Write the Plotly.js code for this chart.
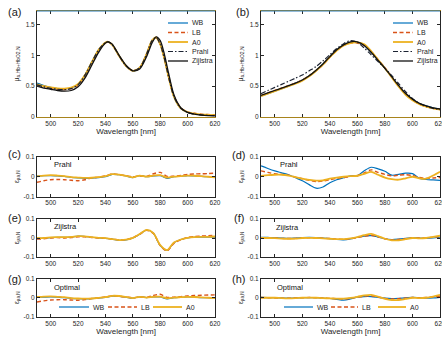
<!DOCTYPE html>
<html>
<head>
<meta charset="utf-8">
<script src="https://cdn.plot.ly/plotly-3.0.1.min.js"></script>
<style>
  html, body { margin: 0; padding: 0; background: #fff; }
  #chart { width: 442px; height: 340px; }
</style>
</head>
<body>
<div id="chart"></div>
<script>
// ---- wavelength grids [nm] ----
const wlSpec = [490,495,500,505,510,515,520,525,530,535,540,542,545,550,555,560,565,570,574,577,580,583,586,590,595,600,605,610,615,620];
const wlDeoxy = [490,495,500,505,510,515,520,525,530,535,540,545,550,555,560,565,570,575,580,585,590,595,600,605,610,615,620];
const wlRes = [490,495,500,505,510,515,520,525,530,535,540,545,550,555,560,565,570,575,580,585,590,595,600,605,610,615,620];

const tickWl = [500,520,540,560,580,600,620];
const tickMu = [0,0.5,1,1.5];
const tickErr = [-0.1,0,0.1];
const tickErrText = ['-0.1','0','0.1'];

const seriesNames = ['WB','LB','A0','Prahl','Zijlstra'];
const fitNames = ['WB','LB','A0'];

// ---- normalized absorption, oxygenated sample (a) ----
const oxyWB       = [0.55,0.51,0.48,0.46,0.45,0.47,0.53,0.68,0.89,1.09,1.21,1.22,1.17,0.99,0.83,0.75,0.80,1.02,1.24,1.29,1.18,0.95,0.66,0.33,0.14,0.075,0.05,0.035,0.028,0.024];
const oxyLB       = [0.52,0.50,0.47,0.455,0.445,0.46,0.52,0.67,0.88,1.08,1.20,1.22,1.17,0.99,0.83,0.75,0.80,1.02,1.24,1.29,1.18,0.95,0.66,0.34,0.15,0.08,0.06,0.045,0.04,0.035];
const oxyA0       = [0.53,0.50,0.48,0.465,0.46,0.475,0.535,0.68,0.89,1.09,1.21,1.22,1.17,0.99,0.83,0.75,0.80,1.02,1.24,1.29,1.18,0.95,0.66,0.33,0.14,0.08,0.055,0.04,0.035,0.03];
const oxyPrahl    = [0.52,0.49,0.465,0.45,0.445,0.46,0.525,0.68,0.89,1.09,1.21,1.22,1.17,0.99,0.83,0.75,0.80,1.02,1.24,1.29,1.18,0.95,0.66,0.33,0.14,0.074,0.045,0.035,0.025,0.022];
const oxyZijlstra = [0.50,0.47,0.45,0.43,0.42,0.43,0.49,0.63,0.84,1.05,1.20,1.22,1.18,1.00,0.84,0.75,0.78,0.98,1.20,1.30,1.24,1.02,0.72,0.36,0.15,0.075,0.045,0.03,0.022,0.018];

// ---- normalized absorption, deoxygenated sample (b) ----
const deoxyWB       = [0.34,0.38,0.42,0.46,0.50,0.55,0.60,0.67,0.75,0.86,0.98,1.09,1.17,1.21,1.21,1.16,1.05,0.92,0.79,0.65,0.50,0.38,0.29,0.22,0.18,0.15,0.13];
const deoxyLB       = [0.35,0.39,0.43,0.47,0.51,0.55,0.60,0.67,0.75,0.85,0.97,1.08,1.16,1.20,1.20,1.16,1.06,0.93,0.80,0.65,0.50,0.38,0.28,0.21,0.17,0.14,0.12];
const deoxyA0       = [0.34,0.38,0.42,0.46,0.50,0.54,0.59,0.66,0.75,0.85,0.97,1.08,1.16,1.20,1.21,1.18,1.07,0.93,0.79,0.64,0.49,0.36,0.27,0.21,0.17,0.14,0.12];
const deoxyPrahl    = [0.38,0.43,0.48,0.53,0.58,0.63,0.68,0.75,0.82,0.91,1.01,1.11,1.19,1.24,1.21,1.12,1.01,0.90,0.79,0.67,0.54,0.41,0.30,0.22,0.17,0.14,0.12];
const deoxyZijlstra = [0.35,0.39,0.43,0.47,0.51,0.55,0.60,0.67,0.76,0.86,0.98,1.09,1.17,1.22,1.22,1.16,1.05,0.92,0.79,0.65,0.51,0.38,0.29,0.22,0.18,0.15,0.13];

// ---- residuals against Prahl (c, d) ----
const errPrahlOxyWB   = [0.003,0.005,0.006,0.004,0.002,-0.003,-0.006,-0.008,-0.007,-0.004,0.0,0.012,0.01,0.004,-0.004,0.006,0.0,0.004,0.005,-0.008,0.0,0.002,0.006,0.004,0.002,0.0,-0.002];
const errPrahlOxyLB   = [-0.028,-0.02,-0.015,-0.014,-0.015,-0.018,-0.02,-0.015,-0.006,-0.002,0.004,0.015,0.01,0.005,0.0,0.004,0.002,0.015,0.022,0.002,0.003,0.006,0.012,0.014,0.015,0.016,0.018];
const errPrahlOxyA0   = [0.002,0.006,0.008,0.006,0.003,-0.002,-0.004,-0.006,-0.005,-0.002,0.003,0.013,0.011,0.005,-0.003,0.006,0.001,0.006,0.008,-0.004,0.001,0.003,0.006,0.005,0.003,0.0,-0.003];
const errPrahlDeoxyWB = [0.055,0.042,0.03,0.02,0.01,-0.005,-0.02,-0.04,-0.058,-0.052,-0.03,-0.015,-0.005,0.004,0.006,0.03,0.048,0.04,0.028,0.008,0.012,0.018,0.016,-0.008,-0.014,-0.016,-0.018];
const errPrahlDeoxyLB = [0.03,0.022,0.015,0.012,0.008,-0.002,-0.01,-0.018,-0.025,-0.022,-0.015,-0.008,-0.004,0.002,0.005,0.02,0.035,0.022,0.012,0.004,0.008,0.01,0.006,-0.004,-0.008,-0.006,-0.004];
const errPrahlDeoxyA0 = [0.004,0.008,0.01,0.01,0.006,-0.002,-0.01,-0.016,-0.02,-0.018,-0.01,-0.004,0.0,0.003,0.005,0.015,0.025,0.01,-0.004,-0.012,-0.015,-0.008,0.0,-0.008,-0.01,0.006,0.025];

// ---- residuals against Zijlstra (e, f) ----
const errZijOxyWB   = [0.0,-0.002,0.002,0.004,0.003,0.005,0.01,0.008,0.004,0.0,-0.002,-0.006,-0.012,-0.01,0.0,0.02,0.042,0.025,-0.04,-0.065,-0.025,-0.008,0.0,0.004,0.004,0.004,0.005];
const errZijOxyLB   = [-0.006,-0.004,0.0,0.002,0.0,0.002,0.006,0.006,0.003,0.0,-0.002,-0.005,-0.01,-0.008,0.002,0.02,0.04,0.024,-0.04,-0.068,-0.028,-0.01,0.003,0.008,0.01,0.012,0.014];
const errZijOxyA0   = [0.0,0.0,0.003,0.005,0.004,0.006,0.01,0.009,0.005,0.001,-0.001,-0.006,-0.011,-0.009,0.001,0.021,0.043,0.026,-0.038,-0.064,-0.024,-0.008,0.001,0.005,0.006,0.006,0.008];
const errZijDeoxyWB = [0.004,0.003,0.002,0.0,-0.002,0.0,0.002,0.003,0.002,0.0,-0.003,-0.008,-0.01,-0.005,0.004,0.01,0.012,0.005,-0.004,-0.008,-0.006,-0.002,0.002,0.0,-0.002,0.0,0.004];
const errZijDeoxyLB = [0.002,0.001,0.0,-0.002,-0.003,-0.002,0.0,0.001,0.001,-0.001,-0.003,-0.006,-0.007,-0.004,0.003,0.01,0.014,0.006,-0.004,-0.01,-0.008,-0.003,0.001,0.0,0.0,0.004,0.008];
const errZijDeoxyA0 = [0.0,0.0,-0.001,-0.003,-0.004,-0.003,0.0,0.001,0.0,-0.002,-0.004,-0.006,-0.006,-0.002,0.005,0.015,0.022,0.01,-0.004,-0.012,-0.012,-0.006,0.0,-0.002,0.0,0.006,0.012];

// ---- residuals against the optimal reference (g, h) ----
const errOptOxyWB   = [0.002,0.003,0.004,0.003,0.0,-0.003,-0.005,-0.006,-0.005,-0.002,0.002,0.008,0.007,0.003,-0.002,0.005,0.001,0.004,0.004,-0.006,0.0,0.002,0.004,0.003,0.001,0.0,-0.002];
const errOptOxyLB   = [-0.022,-0.016,-0.012,-0.01,-0.01,-0.012,-0.013,-0.01,-0.004,0.0,0.004,0.01,0.007,0.004,0.0,0.004,0.002,0.012,0.018,0.002,0.003,0.006,0.01,0.012,0.013,0.014,0.015];
const errOptOxyA0   = [0.004,0.006,0.007,0.005,0.003,-0.002,-0.004,-0.005,-0.004,-0.001,0.003,0.01,0.009,0.004,-0.002,0.005,0.001,0.005,0.006,-0.003,0.001,0.003,0.005,0.004,0.002,0.0,-0.002];
const errOptDeoxyWB = [0.002,0.001,0.0,-0.001,-0.002,-0.001,0.0,0.001,0.0,-0.002,-0.004,-0.008,-0.012,-0.006,0.003,0.006,0.006,0.002,-0.002,-0.004,-0.003,-0.001,0.002,0.0,-0.002,-0.001,0.002];
const errOptDeoxyLB = [0.001,0.0,-0.001,-0.002,-0.002,-0.001,0.0,0.001,0.0,-0.001,-0.003,-0.005,-0.006,-0.003,0.003,0.008,0.01,0.004,-0.003,-0.006,-0.005,-0.002,0.001,0.0,0.001,0.004,0.008];
const errOptDeoxyA0 = [0.0,0.0,0.0,-0.002,-0.003,-0.002,0.0,0.001,0.0,-0.002,-0.003,-0.005,-0.005,-0.001,0.005,0.012,0.015,0.006,-0.006,-0.012,-0.012,-0.006,0.0,-0.002,0.0,0.006,0.015];

// ---- styling ----
const FONT = 'Liberation Sans, Arial, Helvetica, sans-serif';
const INK = '#262626';
const W = 442, H = 340;
const styles = {
  WB:       { color: '#0072BD', width: 1.2, dash: 'solid' },
  LB:       { color: '#D95319', width: 1.4, dash: '4px,2.5px' },
  A0:       { color: '#EDB120', width: 1.8, dash: 'solid' },
  Prahl:    { color: '#1c2333', width: 1.2, dash: '5px,2px,1.5px,2px' },
  Zijlstra: { color: '#111111', width: 1.3, dash: 'solid' }
};

// pixel -> paper helpers
const px = v => v / W;
const py = v => 1 - v / H;
const colL = [px(37), px(215)];
const colR = [px(261), px(440)];
const rowSpec = [py(117), py(11)];
const rowC = [py(196.5), py(157)];
const rowE = [py(257), py(219)];
const rowG = [py(317), py(278.5)];

const traces = [];
function addLine(x, y, name, n) {
  const s = styles[name];
  traces.push({
    type: 'scatter', mode: 'lines', x: x, y: y, name: name,
    xaxis: 'x' + (n === 1 ? '' : n), yaxis: 'y' + (n === 1 ? '' : n),
    line: { color: s.color, width: s.width, dash: s.dash, shape: 'spline', smoothing: 0.8 },
    showlegend: false, hoverinfo: 'skip'
  });
}

// (a) and (b): spectra
[[oxyWB,oxyLB,oxyA0,oxyPrahl,oxyZijlstra],[deoxyWB,deoxyLB,deoxyA0,deoxyPrahl,deoxyZijlstra]].forEach((set, i) => {
  const x = i === 0 ? wlSpec : wlDeoxy;
  set.forEach((y, k) => addLine(x, y, seriesNames[k], i + 1));
});

// (c)-(h): residuals
const residualSets = [
  [errPrahlOxyWB, errPrahlOxyLB, errPrahlOxyA0],
  [errPrahlDeoxyWB, errPrahlDeoxyLB, errPrahlDeoxyA0],
  [errZijOxyWB, errZijOxyLB, errZijOxyA0],
  [errZijDeoxyWB, errZijDeoxyLB, errZijDeoxyA0],
  [errOptOxyWB, errOptOxyLB, errOptOxyA0],
  [errOptDeoxyWB, errOptDeoxyLB, errOptDeoxyA0]
];
residualSets.forEach((set, i) => {
  set.forEach((y, k) => addLine(wlRes, y, fitNames[k], i + 3));
});

// ---- axes ----
function xAxis(n, domain, withTitle, lineColor) {
  const ax = {
    domain: domain, anchor: 'y' + (n === 1 ? '' : n), range: [490, 620],
    tickvals: tickWl, showgrid: false, zeroline: false,
    showline: true, mirror: 'ticks', linecolor: lineColor || INK, linewidth: 1,
    ticks: 'inside', ticklen: 3, tickwidth: 1, tickcolor: INK, ticklabeloverflow: 'allow',
    tickfont: { family: FONT, size: 6.5, color: INK }, fixedrange: true
  };
  if (withTitle) ax.title = { text: 'Wavelength [nm]', font: { family: FONT, size: 8, color: INK }, standoff: 2 };
  return ax;
}
function yAxis(n, domain, spec) {
  const ax = {
    domain: domain, anchor: 'x' + (n === 1 ? '' : n), showgrid: false, zeroline: false,
    showline: true, mirror: 'ticks', linecolor: INK, linewidth: 1,
    ticks: 'inside', ticklen: 3, tickwidth: 1, tickcolor: INK,
    tickfont: { family: FONT, size: 6.5, color: INK }, fixedrange: true
  };
  if (spec) {
    ax.range = [0, 1.72]; ax.tickvals = tickMu;
    ax.title = { text: 'μ<sub>a,Hb+HbO2,N</sub>', font: { family: FONT, size: 7, color: INK }, standoff: 5 };
  } else {
    ax.range = [-0.1, 0.1]; ax.tickvals = tickErr; ax.ticktext = tickErrText;
    ax.title = { text: 'ε<sub>μa,N</sub>', font: { family: FONT, size: 6.5, color: INK }, standoff: 3 };
  }
  return ax;
}

const GOLD = '#a8841c';
const layout = {
  width: W, height: H, margin: { l: 0, r: 0, t: 0, b: 0 },
  paper_bgcolor: '#fff', plot_bgcolor: '#fff', showlegend: false,
  font: { family: FONT, color: INK },
  xaxis: xAxis(1, colL, true, GOLD), yaxis: yAxis(1, rowSpec, true),
  xaxis2: xAxis(2, colR, true, GOLD), yaxis2: yAxis(2, rowSpec, true),
  xaxis3: xAxis(3, colL, false), yaxis3: yAxis(3, rowC, false),
  xaxis4: xAxis(4, colR, false), yaxis4: yAxis(4, rowC, false),
  xaxis5: xAxis(5, colL, false), yaxis5: yAxis(5, rowE, false),
  xaxis6: xAxis(6, colR, false), yaxis6: yAxis(6, rowE, false),
  xaxis7: xAxis(7, colL, true), yaxis7: yAxis(7, rowG, false),
  xaxis8: xAxis(8, colR, true), yaxis8: yAxis(8, rowG, false),
  shapes: [], annotations: []
};

// top frame line of the spectrum panels
['x', 'x2'].forEach((xa, i) => {
  layout.shapes.push({
    type: 'line', xref: xa + ' domain', yref: (i === 0 ? 'y' : 'y2') + ' domain',
    x0: 0, x1: 1, y0: 1, y1: 1, line: { color: '#2a7ab8', width: 1.2 }
  });
});

// legend keys: a line sample and its name
function keyEntry(name, x0, x1, xt, y) {
  const s = styles[name];
  layout.shapes.push({
    type: 'line', xref: 'paper', yref: 'paper',
    x0: px(x0), x1: px(x1), y0: py(y), y1: py(y),
    line: { color: s.color, width: s.width, dash: s.dash }
  });
  layout.annotations.push({
    text: name, xref: 'paper', yref: 'paper', x: px(xt), y: py(y),
    xanchor: 'left', yanchor: 'middle', showarrow: false,
    font: { family: FONT, size: 7, color: INK }
  });
}
// vertical keys in (a) and (b)
const keyRows = [23, 32.5, 42, 51.5, 61];
[[168, 188, 190], [393, 413, 415]].forEach(([x0, x1, xt]) => {
  seriesNames.forEach((name, k) => keyEntry(name, x0, x1, xt, keyRows[k]));
});
// horizontal keys in (g) and (h)
const keyCols = [
  [[59, 89, 91], [108, 137, 139], [153, 182, 184]],
  [[284, 313, 315], [331, 358, 360], [378, 406, 408]]
];
keyCols.forEach(cols => fitNames.forEach((name, k) => keyEntry(name, cols[k][0], cols[k][1], cols[k][2], 307)));

// panel letters
const panelLabels = [
  ['(a)', 15, 12.5], ['(b)', 242, 12.5], ['(c)', 15, 154], ['(d)', 239, 155],
  ['(e)', 15, 218], ['(f)', 239, 218], ['(g)', 15, 279], ['(h)', 238, 279]
];
panelLabels.forEach(([t, x, y]) => layout.annotations.push({
  text: t, xref: 'paper', yref: 'paper', x: px(x), y: py(y),
  xanchor: 'center', yanchor: 'middle', showarrow: false,
  font: { family: FONT, size: 11, color: '#1a1a1a' }
}));

// reference names inside the residual panels
const refLabels = [
  ['Prahl', 3, 0.085, 0.8], ['Prahl', 4, 0.095, 0.8],
  ['Zijlstra', 5, 0.085, 0.79], ['Zijlstra', 6, 0.073, 0.78],
  ['Optimal', 7, 0.085, 0.77], ['Optimal', 8, 0.078, 0.77]
];
refLabels.forEach(([t, n, x, y]) => layout.annotations.push({
  text: t, xref: 'x' + n + ' domain', yref: 'y' + n + ' domain', x: x, y: y,
  xanchor: 'left', yanchor: 'middle', showarrow: false,
  font: { family: FONT, size: 7.5, color: '#111' }
}));

Plotly.newPlot('chart', traces, layout, { staticPlot: true, displayModeBar: false });
</script>
</body>
</html>
